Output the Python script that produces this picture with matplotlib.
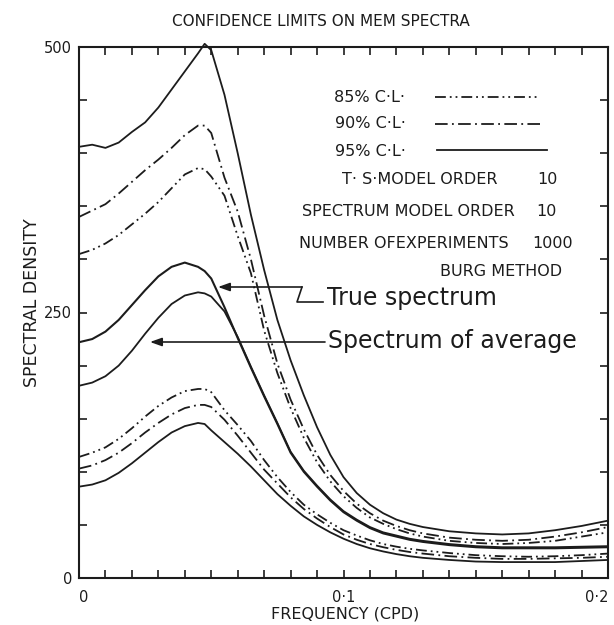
import matplotlib
matplotlib.use("Agg")
import matplotlib.pyplot as plt
from matplotlib.ticker import MultipleLocator, FixedLocator
from matplotlib.lines import Line2D

plt.rcParams['font.family'] = ['DejaVu Sans']

# ---- data ----
freq = [0, .005, .01, .015, .02, .025, .03, .035, .04, .045, .0475, .05, .055, .06,
        .065, .07, .075, .08, .085, .09, .095, .1, .105, .11, .115, .12, .125, .13,
        .14, .15, .16, .17, .18, .19, .2]

upper_95 = [406, 408, 405, 410, 420, 429, 443, 460, 477, 494, 503, 497, 455, 400,
            342, 290, 243, 205, 172, 142, 116, 95, 80, 69, 61, 55, 51, 48,
            44, 42, 41, 42, 45, 49, 54]
upper_90 = [340, 346, 352, 362, 373, 384, 394, 405, 417, 426, 426, 419, 377, 345,
            300, 247, 202, 168, 140, 116, 97, 82, 70, 61, 54, 49, 45, 42,
            38, 36, 35, 36, 39, 43, 48]
upper_85 = [305, 309, 315, 323, 333, 343, 354, 367, 380, 386, 385, 378, 360, 322,
            287, 233, 193, 160, 132, 109, 91, 77, 66, 57, 51, 46, 42, 39,
            35, 33, 32, 33, 35, 39, 43]
true_spec = [222, 225, 232, 243, 257, 271, 284, 293, 297, 293, 289, 282, 255, 226,
             198, 171, 145, 118, 100, 86, 73, 62, 54, 47, 42, 39, 36, 34,
             31, 29, 28, 28, 28, 28.5, 29]
avg_spec = [181, 184, 190, 200, 214, 230, 245, 258, 266, 269, 268, 265, 251, 227,
            199, 172, 146, 119, 101, 87, 74, 63, 55, 48, 43, 40, 37, 35,
            32, 30, 29, 29, 29, 29.5, 30]
lower_85 = [114, 118, 123, 131, 141, 152, 162, 170, 176, 178, 178, 175, 158, 144,
            129, 111, 95, 81, 69, 60, 52, 45, 40, 35.5, 32, 29.5, 27.5, 26,
            23.5, 21.5, 20.5, 20, 20.5, 21.5, 23]
lower_90 = [103, 106, 111, 118, 127, 137, 146, 154, 160, 163, 163, 161, 149, 134,
            118, 102, 89, 76, 65, 56, 48, 41, 36, 32, 29, 26.5, 24.5, 23,
            20.5, 19, 18, 18, 18.5, 19, 20]
lower_95 = [86, 88, 92, 99, 108, 118, 128, 137, 143, 146, 145, 139, 128, 117,
            105, 92, 79, 68, 58, 50, 43, 37, 32, 28, 25, 22.5, 20.5, 19,
            17, 15.5, 15, 15, 15, 16, 17]

x_ticks = [0, 0.1, 0.2]
x_ticklabels = ["0", "0·1", "0·2"]
y_ticks = [0, 250, 500]
y_ticklabels = ["0", "250", "500"]

title = "CONFIDENCE LIMITS ON MEM SPECTRA"
xlabel = "FREQUENCY (CPD)"
ylabel = "SPECTRAL DENSITY"

# ---- styles ----
INK = "#1c1c1c"
LW = 1.3
DASH_85 = (0, (6, 2.2, 1, 2.2, 1, 2.2))
DASH_90 = (0, (7, 2.4, 1, 2.4))

W, H = 614, 625
fig = plt.figure(figsize=(W / 100, H / 100), dpi=100)
fig.patch.set_facecolor("white")
L, R, T, B = 79, 608, 47, 578
ax = fig.add_axes([L / W, 1 - B / H, (R - L) / W, (B - T) / H])

ax.plot(freq, upper_95, color=INK, lw=LW, linestyle="-", clip_on=False)
ax.plot(freq, upper_90, color=INK, lw=LW, linestyle=DASH_90)
ax.plot(freq, upper_85, color=INK, lw=LW, linestyle=DASH_85)
ax.plot(freq, true_spec, color=INK, lw=LW + 0.2, linestyle="-")
ax.plot(freq, avg_spec, color=INK, lw=LW, linestyle="-")
ax.plot(freq, lower_85, color=INK, lw=LW, linestyle=DASH_85)
ax.plot(freq, lower_90, color=INK, lw=LW, linestyle=DASH_90)
ax.plot(freq, lower_95, color=INK, lw=LW, linestyle="-")

ax.set_xlim(0, 0.2)
ax.set_ylim(0, 500)

for s in ax.spines.values():
    s.set_linewidth(1.5)
    s.set_color(INK)

ax.xaxis.set_major_locator(FixedLocator(x_ticks))
ax.set_xticklabels(x_ticklabels)
ax.xaxis.set_minor_locator(MultipleLocator(0.01))
ax.yaxis.set_major_locator(FixedLocator(y_ticks))
ax.set_yticklabels(y_ticklabels)
ax.yaxis.set_minor_locator(MultipleLocator(50))
ax.tick_params(which="both", direction="in", top=True, right=True,
               color=INK, width=1.2)
ax.tick_params(which="major", length=6)
ax.tick_params(which="minor", length=6)
ax.tick_params(axis="x", which="major", pad=9, labelsize=10.5, labelcolor=INK)
ax.tick_params(axis="y", which="major", pad=5, labelsize=10.5, labelcolor=INK)
ax.get_xticklabels()[-1].set_ha("right")
ax.get_xticklabels()[0].set_ha("left")

fig.text(321 / W, 1 - 21 / H, title, ha="center", va="center",
         fontsize=11, color=INK)
fig.text(345 / W, 1 - 614 / H, xlabel, ha="center", va="center",
         fontsize=11.5, color=INK)
fig.text(32 / W, 1 - 303 / H, ylabel, ha="center", va="center",
         rotation=90, fontsize=12.5, color=INK)


def fx(px):
    return (px - L) / (R - L)


def fy(py):
    return (B - py) / (B - T)


tr = ax.transAxes
small = 11.5
# legend block
ax.text(fx(370), fy(97), "85% C·L·", transform=tr, fontsize=small, ha="center", va="center", color=INK)
ax.add_line(Line2D([fx(435), fx(540)], [fy(97), fy(97)], transform=tr,
                   color=INK, lw=LW, linestyle=DASH_85))
ax.text(fx(370), fy(124), "90% C·L·", transform=tr, fontsize=small, ha="center", va="center", color=INK)
ax.add_line(Line2D([fx(435), fx(540)], [fy(124), fy(124)], transform=tr,
                   color=INK, lw=LW, linestyle=DASH_90))
ax.text(fx(370), fy(151), "95% C·L·", transform=tr, fontsize=small, ha="center", va="center", color=INK)
ax.add_line(Line2D([fx(437), fx(547)], [fy(150), fy(150)], transform=tr,
                   color=INK, lw=LW, linestyle="-"))

ax.text(fx(420), fy(179), "T· S·MODEL ORDER", transform=tr, fontsize=small, ha="center", va="center", color=INK)
ax.text(fx(547), fy(179), "10", transform=tr, fontsize=small, ha="center", va="center", color=INK)
ax.text(fx(408), fy(211), "SPECTRUM MODEL ORDER", transform=tr, fontsize=small, ha="center", va="center", color=INK)
ax.text(fx(546), fy(211), "10", transform=tr, fontsize=small, ha="center", va="center", color=INK)
ax.text(fx(404), fy(243), "NUMBER OFEXPERIMENTS", transform=tr, fontsize=small, ha="center", va="center", color=INK)
ax.text(fx(553), fy(243), "1000", transform=tr, fontsize=small, ha="center", va="center", color=INK)
ax.text(fx(501), fy(271), "BURG METHOD", transform=tr, fontsize=small, ha="center", va="center", color=INK)

ax.text(fx(327), fy(298), "True spectrum", transform=tr, fontsize=17, va="center", color=INK)
ax.text(fx(328), fy(341), "Spectrum of average", transform=tr, fontsize=17, va="center", color=INK)

# arrows
ax.add_line(Line2D([fx(302), fx(297), fx(323)], [fy(287), fy(302), fy(302)],
                   transform=tr, color=INK, lw=1.2))
ax.annotate("", xy=(fx(218), fy(287)), xytext=(fx(302), fy(287)),
            xycoords=tr, textcoords=tr,
            arrowprops=dict(arrowstyle="-|>,head_length=0.7,head_width=0.25",
                            color=INK, lw=1.2, shrinkA=0, shrinkB=0))
ax.annotate("", xy=(fx(150), fy(342)), xytext=(fx(325), fy(342)),
            xycoords=tr, textcoords=tr,
            arrowprops=dict(arrowstyle="-|>,head_length=0.7,head_width=0.25",
                            color=INK, lw=1.2, shrinkA=0, shrinkB=0))

fig.savefig("out.png", dpi=100, facecolor="white")
